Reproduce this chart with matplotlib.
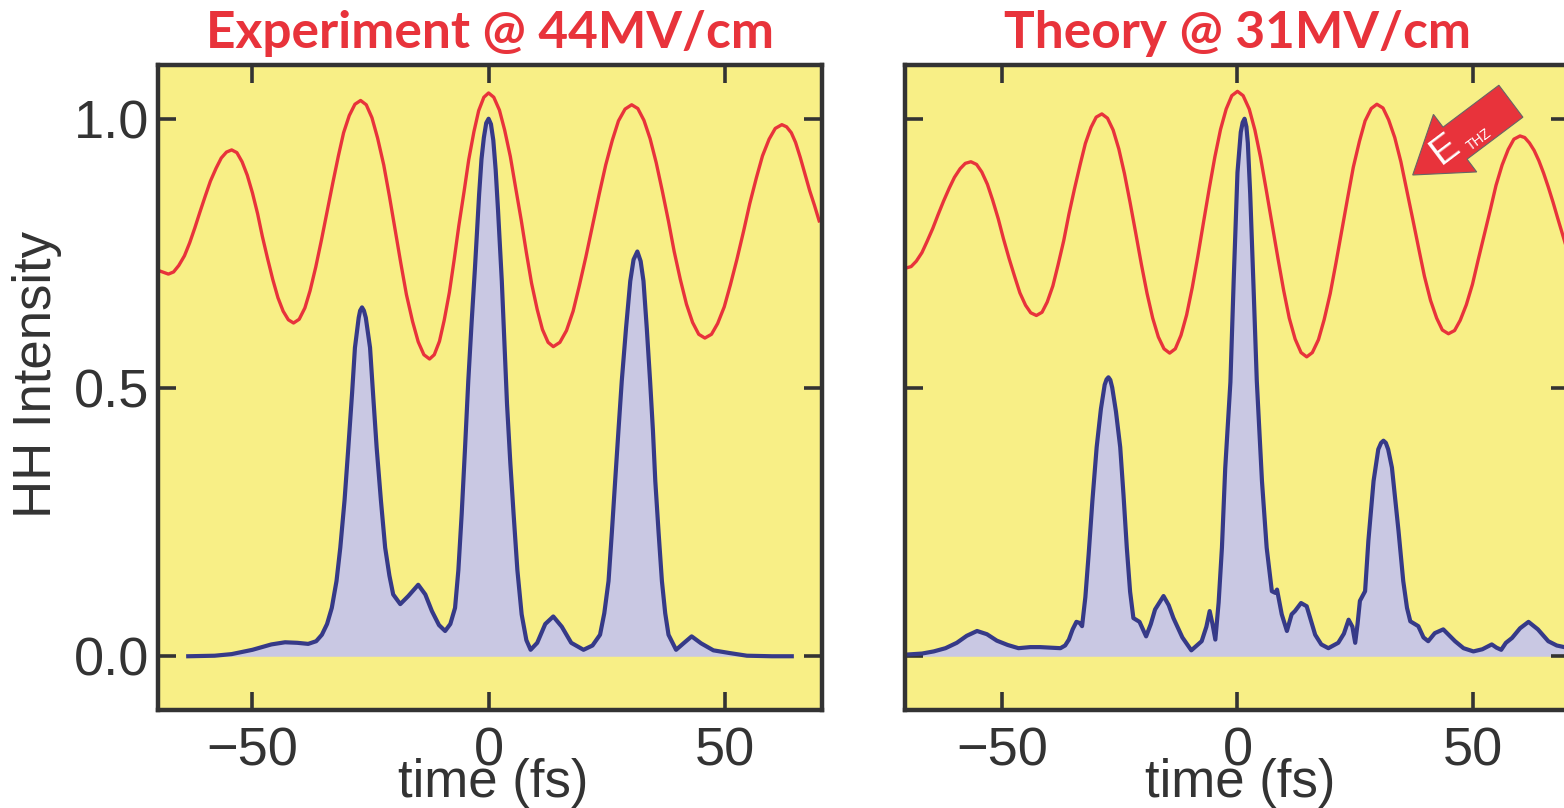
import matplotlib.pyplot as plt
from matplotlib.patches import FancyArrow
from matplotlib.transforms import IdentityTransform

# experiment, field (red) and HH intensity (blue)
t_exp_field = [-70.0, -67.8,
               -66.7, -65.6, -64.4, -63.3, -62.2, -61.1, -60.0, -58.9, -57.7, -56.6, -55.5, -54.4,
               -53.3, -52.2, -51.1, -50.0, -48.9, -47.9, -46.8, -45.7, -44.6, -43.5, -42.4, -41.3,
               -40.1, -38.9, -37.8, -36.6, -35.4, -34.2, -33.0, -31.8, -30.7, -29.5, -28.3, -27.1,
               -25.9, -24.7, -23.5, -22.2, -21.0, -19.8, -18.6, -17.4, -16.1, -14.9, -13.7, -12.5,
               -11.5, -10.4, -9.4, -8.3, -7.3, -6.3, -5.2, -4.2, -3.1, -2.1, -1.0, 0.0,
               1.1, 2.3, 3.4, 4.6, 5.7, 6.9, 8.0, 9.1, 10.3, 11.4, 12.6, 13.7,
               15.1, 16.5, 17.9, 19.2, 20.6, 22.0, 23.4, 24.8, 26.2, 27.5, 28.9, 30.3,
               31.6, 32.9, 34.2, 35.5, 36.8, 38.1, 39.3, 40.6, 41.9, 43.2, 44.5, 45.8,
               47.2, 48.5, 49.9, 51.2, 52.6, 54.0, 55.3, 56.7, 58.0, 59.4, 60.7, 62.1,
               63.1, 64.1, 65.0, 66.0, 67.0, 68.0, 69.0, 70.0]
exp_field = [0.718, 0.711,
             0.715, 0.727, 0.745, 0.769, 0.797, 0.827, 0.856, 0.884, 0.908, 0.927, 0.938, 0.942,
             0.937, 0.920, 0.895, 0.862, 0.823, 0.781, 0.740, 0.701, 0.667, 0.642, 0.626, 0.620,
             0.627, 0.648, 0.680, 0.724, 0.774, 0.827, 0.880, 0.931, 0.974, 1.006, 1.027, 1.034,
             1.026, 1.002, 0.964, 0.914, 0.856, 0.794, 0.732, 0.673, 0.623, 0.585, 0.561, 0.553,
             0.561, 0.586, 0.625, 0.677, 0.737, 0.801, 0.864, 0.924, 0.976, 1.015, 1.040, 1.048,
             1.040, 1.016, 0.979, 0.930, 0.873, 0.812, 0.751, 0.694, 0.645, 0.608, 0.584, 0.576,
             0.584, 0.606, 0.642, 0.689, 0.743, 0.801, 0.859, 0.914, 0.960, 0.996, 1.018, 1.026,
             1.019, 0.997, 0.963, 0.918, 0.865, 0.809, 0.753, 0.701, 0.655, 0.621, 0.599, 0.592,
             0.599, 0.619, 0.650, 0.691, 0.739, 0.791, 0.842, 0.890, 0.931, 0.962, 0.982, 0.989,
             0.985, 0.974, 0.956, 0.928, 0.897, 0.866, 0.839, 0.810]

t_exp_hh = [-63.6, -58.0, -54.4, -50.0, -46.0, -43.1, -40.5, -38.2, -36.5, -35.3,
            -34.2, -33.2, -32.2, -31.4, -30.5, -29.7, -28.9, -28.3, -27.5, -27.2,
            -26.8, -26.4, -26.0, -25.1, -24.4, -23.7, -22.8, -21.9, -21.0, -20.2,
            -18.7, -17.0, -14.9, -13.4, -12.0, -10.5, -9.2, -8.1, -7.1, -6.4,
            -5.7, -5.0, -4.3, -3.6, -2.9, -2.0, -1.5, -1.0, -0.5, 0.0,
            0.5, 1.0, 1.5, 2.0, 2.8, 3.9, 4.6, 5.3, 6.1, 7.0,
            8.0, 8.9, 10.3, 12.0, 13.7, 15.5, 17.5, 20.1, 22.0, 23.6,
            24.5, 25.4, 26.1, 26.8, 27.5, 28.2, 29.1, 30.0, 30.7, 31.5,
            32.2, 32.8, 33.5, 34.2, 34.8, 35.3, 36.0, 36.7, 37.4, 38.1,
            39.7, 41.4, 43.0, 45.0, 47.6, 51.0, 54.7, 60.0, 64.2]
exp_hh = [0.000, 0.001, 0.004, 0.012, 0.022, 0.026, 0.025, 0.023, 0.028, 0.040,
          0.060, 0.090, 0.140, 0.202, 0.290, 0.388, 0.490, 0.574, 0.630, 0.643,
          0.649, 0.643, 0.630, 0.574, 0.480, 0.388, 0.290, 0.202, 0.150, 0.115,
          0.097, 0.112, 0.133, 0.115, 0.084, 0.058, 0.047, 0.060, 0.090, 0.160,
          0.264, 0.385, 0.512, 0.620, 0.720, 0.860, 0.925, 0.965, 0.992, 1.000,
          0.990, 0.960, 0.905, 0.830, 0.698, 0.470, 0.360, 0.264, 0.160, 0.078,
          0.030, 0.012, 0.025, 0.060, 0.074, 0.055, 0.025, 0.012, 0.020, 0.040,
          0.080, 0.140, 0.230, 0.326, 0.420, 0.512, 0.610, 0.698, 0.738, 0.753,
          0.735, 0.698, 0.610, 0.512, 0.420, 0.326, 0.230, 0.140, 0.080, 0.040,
          0.012, 0.025, 0.037, 0.024, 0.011, 0.006, 0.001, 0.000, 0.000]

# theory
t_th_field = [-70.5,
              -69.3, -68.2, -67.0, -65.9, -64.7, -63.6, -62.4, -61.2, -60.1, -58.9, -57.8, -56.6,
              -55.4, -54.3, -53.1, -52.0, -50.8, -49.7, -48.5, -47.3, -46.2, -45.0, -43.9, -42.7,
              -41.5, -40.4, -39.2, -38.1, -36.9, -35.8, -34.6, -33.4, -32.3, -31.1, -30.0, -28.8,
              -27.6, -26.4, -25.2, -24.0, -22.8, -21.6, -20.4, -19.2, -18.0, -16.8, -15.6, -14.4,
              -13.2, -12.0, -10.8, -9.6, -8.4, -7.2, -6.0, -4.8, -3.6, -2.4, -1.2, 0.0,
              1.2, 2.5, 3.7, 4.9, 6.1, 7.35, 8.6, 9.8, 11.0, 12.25, 13.5, 14.7,
              15.9, 17.2, 18.4, 19.7, 20.9, 22.15, 23.4, 24.6, 25.9, 27.1, 28.4, 29.6,
              30.9, 32.1, 33.4, 34.7, 35.9, 37.2, 38.5, 39.7, 41.0, 42.3, 43.5, 44.8,
              46.1, 47.3, 48.6, 49.9, 51.1, 52.4, 53.7, 54.9, 56.2, 57.5, 58.7, 60.0,
              61.0, 62.0, 63.0, 64.0, 65.0, 66.0, 67.0, 68.0, 69.4, 70.6]
th_field = [0.722,
            0.725, 0.735, 0.751, 0.772, 0.796, 0.821, 0.847, 0.871, 0.891, 0.907, 0.917, 0.920,
            0.915, 0.901, 0.878, 0.849, 0.814, 0.777, 0.740, 0.706, 0.676, 0.653, 0.639, 0.634,
            0.640, 0.659, 0.689, 0.728, 0.773, 0.822, 0.870, 0.915, 0.954, 0.984, 1.003, 1.009,
            1.001, 0.979, 0.944, 0.898, 0.844, 0.787, 0.729, 0.675, 0.629, 0.594, 0.572, 0.564,
            0.572, 0.597, 0.635, 0.686, 0.745, 0.808, 0.870, 0.929, 0.980, 1.018, 1.043, 1.051,
            1.043, 1.018, 0.979, 0.928, 0.868, 0.804, 0.740, 0.681, 0.629, 0.590, 0.565, 0.557,
            0.565, 0.589, 0.626, 0.675, 0.731, 0.792, 0.853, 0.910, 0.958, 0.996, 1.019, 1.027,
            1.020, 0.998, 0.965, 0.920, 0.869, 0.814, 0.758, 0.707, 0.662, 0.629, 0.607, 0.600,
            0.606, 0.625, 0.654, 0.692, 0.737, 0.784, 0.831, 0.876, 0.914, 0.943, 0.962, 0.968,
            0.965, 0.955, 0.941, 0.922, 0.899, 0.873, 0.845, 0.815, 0.774, 0.738]

t_th_hh = [-70.5, -67.0, -64.5, -62.0, -59.6, -57.5, -55.3, -53.2, -51.1, -48.8,
           -46.5, -44.0, -41.9, -37.6, -36.6, -35.8, -35.0, -34.2, -33.5, -33.0,
           -32.3, -31.6, -30.8, -29.9, -29.0, -28.2, -27.8, -27.4, -27.0, -26.6,
           -25.8, -24.9, -24.2, -23.5, -22.8, -22.1, -20.8, -19.4, -18.4, -17.5,
           -15.7, -14.6, -13.6, -11.7, -9.8, -7.6, -6.6, -5.9, -5.3, -4.7,
           -4.0, -3.3, -2.6, -1.5, -0.8, 0.0, 0.7, 1.1, 1.5, 1.9,
           2.2, 2.7, 3.4, 4.1, 5.2, 6.2, 7.3, 8.0, 8.4, 9.4,
           10.5, 11.5, 12.2, 13.5, 14.7, 16.5, 17.8, 19.3, 21.4, 22.6,
           23.6, 24.4, 25.0, 25.5, 26.0, 27.1, 27.8, 28.9, 29.9, 30.5,
           31.0, 31.5, 32.0, 32.8, 34.2, 35.2, 36.0, 36.7, 38.4, 39.5,
           40.5, 41.9, 43.7, 46.2, 48.0, 50.1, 52.0, 54.0, 55.0, 56.0,
           57.0, 58.3, 60.0, 61.8, 63.8, 66.0, 67.8, 69.4, 70.6]
th_hh = [0.003, 0.005, 0.009, 0.015, 0.025, 0.038, 0.047, 0.041, 0.029, 0.021,
         0.015, 0.017, 0.017, 0.015, 0.020, 0.031, 0.050, 0.064, 0.062, 0.056,
         0.110, 0.190, 0.290, 0.389, 0.460, 0.505, 0.515, 0.519, 0.514, 0.500,
         0.455, 0.389, 0.300, 0.202, 0.120, 0.071, 0.064, 0.037, 0.060, 0.087,
         0.112, 0.095, 0.071, 0.035, 0.011, 0.028, 0.055, 0.084, 0.060, 0.031,
         0.100, 0.202, 0.350, 0.510, 0.700, 0.900, 0.975, 0.993, 1.000, 0.985,
         0.955, 0.861, 0.690, 0.513, 0.326, 0.202, 0.121, 0.118, 0.124, 0.078,
         0.047, 0.078, 0.084, 0.099, 0.093, 0.040, 0.022, 0.015, 0.025, 0.042,
         0.068, 0.055, 0.025, 0.060, 0.103, 0.121, 0.215, 0.326, 0.385, 0.397,
         0.401, 0.397, 0.385, 0.351, 0.233, 0.140, 0.090, 0.065, 0.056, 0.035,
         0.028, 0.043, 0.050, 0.028, 0.015, 0.009, 0.013, 0.022, 0.016, 0.012,
         0.025, 0.034, 0.052, 0.064, 0.050, 0.028, 0.020, 0.017, 0.016]

titles = ["Experiment @ 44MV/cm", "Theory @ 31MV/cm"]

bg = "#f8ef86"
red = "#e8333b"
blue = "#363a88"
fill = "#c9c8e3"
spine_col = "#333333"

plt.rcParams["font.family"] = ["Liberation Sans", "DejaVu Sans"]

fig = plt.figure(figsize=(15.64, 8.08), dpi=100)
ax1 = fig.add_axes([158 / 1564, 98 / 808, 664 / 1564, 645 / 808])
ax2 = fig.add_axes([905 / 1564, 98 / 808, 664 / 1564, 645 / 808])

panels = [
    (ax1, t_exp_field, exp_field, t_exp_hh, exp_hh, (-70.0, 70.6)),
    (ax2, t_th_field, th_field, t_th_hh, th_hh, (-70.6, 70.4)),
]

for ax, tf, f, th, h, xl in panels:
    ax.set_facecolor(bg)
    ax.fill_between(th, 0, h, color=fill, lw=0)
    ax.plot(th, h, color=blue, lw=3.0, solid_joinstyle="round")
    ax.plot(tf, f, color=red, lw=2.4, solid_joinstyle="round")
    ax.set_xlim(*xl)
    ax.set_ylim(-0.1, 1.1)
    ax.set_xticks([-50, 0, 50])
    ax.set_yticks([0.0, 0.5, 1.0])
    ax.tick_params(direction="in", length=13, width=2.6, color=spine_col,
                   top=True, right=True, labelsize=39, labelcolor="#333333")
    ax.tick_params(axis="x", pad=12)
    ax.tick_params(axis="y", pad=6)
    for s in ax.spines.values():
        s.set_linewidth(3.2)
        s.set_color(spine_col)
    ax.set_xlabel("time (fs)", fontsize=38, color="#333333")
    ax.xaxis.set_label_coords(0.505, -0.075)

ax1.set_yticklabels(["0.0", "0.5", "1.0"])
ax2.set_yticklabels([])
ax1.set_ylabel("HH Intensity", fontsize=38, color="#333333")
ax1.yaxis.set_label_coords(-0.145, 0.52)

# panel titles
fig.text(490, 808 - 48, titles[0], transform=IdentityTransform(), ha="center",
         va="baseline", fontsize=37, fontweight="bold", color=red, family="Lato")
fig.text(1238, 808 - 48, titles[1], transform=IdentityTransform(), ha="center",
         va="baseline", fontsize=37, fontweight="bold", color=red, family="Lato")

# E_THz arrow
arrow = FancyArrow(1510.9, 808 - 101.2, -98.2, -73.8, width=40, head_width=72,
                   head_length=53, length_includes_head=True,
                   transform=IdentityTransform(), fc=red, ec="#666666", lw=0.8)
fig.add_artist(arrow)
fig.text(1445, 808 - 149, "E", transform=IdentityTransform(), ha="center",
         va="center", rotation=37, fontsize=28, color="white")
fig.text(1479, 808 - 140, "THZ", transform=IdentityTransform(), ha="center",
         va="center", rotation=37, fontsize=10, color="white")

fig.savefig("out.png", dpi=100)
